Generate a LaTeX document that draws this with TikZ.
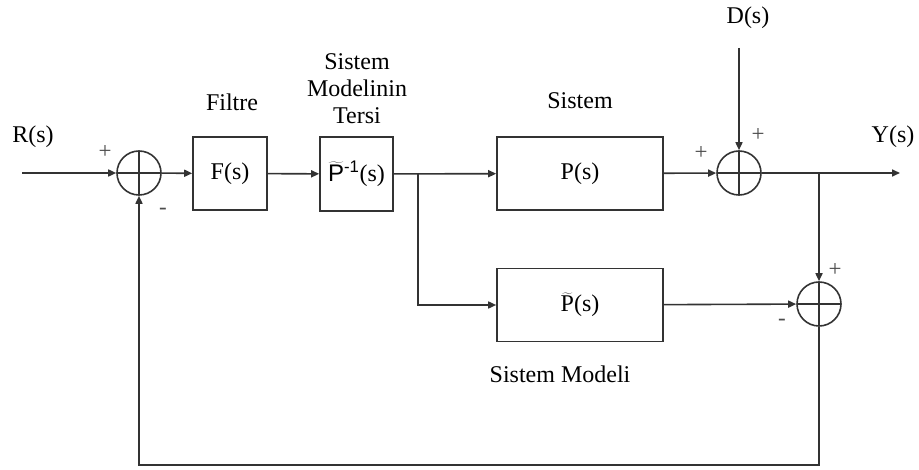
\documentclass[tikz,border=0pt]{standalone}
\usepackage{fontspec}
\setmainfont{Liberation Serif}
\setsansfont{Liberation Sans}
\usetikzlibrary{arrows.meta,positioning}
\definecolor{lGray}{gray}{0.2}
\newcommand{\tld}[1]{\ensuremath{\widetilde{\mbox{#1}}}}
\tikzset{
    blk/.style={rectangle, draw, inner sep=0pt, font=\fontsize{24}{26}\selectfont},
    sumj/.style={circle, draw, inner sep=0pt, minimum size=44pt,
        path picture={\draw (path picture bounding box.north) -- (path picture bounding box.south)
                            (path picture bounding box.west) -- (path picture bounding box.east);}},
    lbl/.style={inner sep=0pt, align=center, font=\fontsize{24}{27}\selectfont},
    sgn/.style={inner sep=0pt, text=black!70, font=\fontsize{23}{24}\selectfont},
    sig/.style={-{Triangle[length=8pt,width=7pt]}}
}

\begin{document}
\begin{tikzpicture}[x=1pt,y=-1pt,line width=1.6pt,draw=lGray]
\useasboundingbox (0,0) rectangle (919,470);
% blocks and summing points
\node[sumj] (sumA) at (139,173) {};
\node[blk, minimum width=74pt, minimum height=73pt] (filt) at (230,173.5) {F(s)};
\node[blk, minimum width=73pt, minimum height=74pt] (inv) at (356.5,174) {\tld{\sffamily P}\textsuperscript{\sffamily -1}(s)};
\node[blk, minimum width=166pt, minimum height=73pt] (plant) at (580,173.5) {P(s)};
\node[blk, minimum width=166pt, minimum height=73pt] (model) at (580,305) {\tld{P}(s)};
\node[sumj] (sumB) at (739,173) {};
\node[sumj] (sumC) at (819,304) {};
% free ends
\coordinate (rin) at (22,173);
\coordinate (yout) at (900,173);
\coordinate (dtop) at (739,48);
\coordinate (brA) at (418,173);
\coordinate (brB) at (819,173);
\coordinate (fbR) at (819,465);
\coordinate (fbL) at (139,465);
% labels
\node[lbl] (rlab) at (33,137) {R(s)};
\node[lbl] (ylab) at (893,137) {Y(s)};
\node[lbl] (dlab) at (748,18) {D(s)};
\node[lbl] (flab) at (232,102) {Filtre};
\node[lbl] (ilab) at (357,89) {Sistem\\Modelinin\\Tersi};
\node[lbl] (plab) at (580,101) {Sistem};
\node[lbl] (mlab) at (560,374) {Sistem Modeli};
\node[sgn] at (105,152) {+};
\node[sgn] at (163,211) {-};
\node[sgn] at (701,153) {+};
\node[sgn] at (758,135) {+};
\node[sgn] at (835,270) {+};
\node[sgn] at (782,322) {-};
% connectors
\draw[sig] (rin) -- (sumA);
\draw[sig] (sumA) -- (filt);
\draw[sig] (filt) -- (inv);
\draw[sig] (inv) -- (plant);
\draw[sig] (brA) |- (model);
\draw[sig] (plant) -- (sumB);
\draw[sig] (dtop) -- (sumB);
\draw[sig] (sumB) -- (yout);
\draw[sig] (brB) -- (sumC);
\draw[sig] (model) -- (sumC);
\draw[sig] (sumC) -- (fbR) -- (fbL) -- (sumA);
\end{tikzpicture}
\end{document}
